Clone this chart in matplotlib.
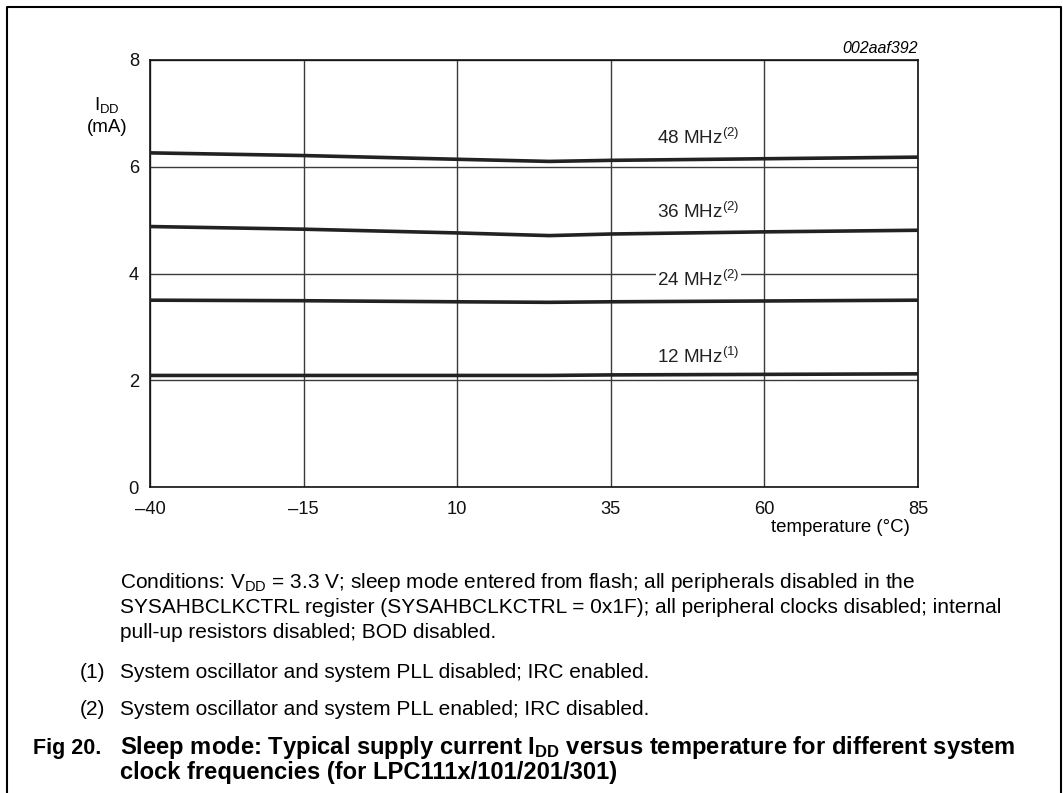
import matplotlib.pyplot as plt
from matplotlib.lines import Line2D

plt.rcParams["font.family"] = ["Liberation Sans", "DejaVu Sans"]
plt.rcParams["mathtext.fontset"] = "custom"
plt.rcParams["mathtext.rm"] = "Liberation Sans"
plt.rcParams["mathtext.it"] = "Liberation Sans:italic"
plt.rcParams["mathtext.bf"] = "Liberation Sans:bold"

# data
temps = [-40, -15, 10, 25, 35, 60, 85]
idd_48 = [6.26, 6.21, 6.14, 6.10, 6.12, 6.15, 6.18]
idd_36 = [4.88, 4.83, 4.76, 4.71, 4.74, 4.78, 4.81]
idd_24 = [3.50, 3.49, 3.47, 3.46, 3.47, 3.485, 3.50]
idd_12 = [2.09, 2.09, 2.09, 2.09, 2.10, 2.11, 2.12]

x_ticks = [-40, -15, 10, 35, 60, 85]
x_tick_labels = ["\u201340", "\u201315", "10", "35", "60", "85"]
y_ticks = [0, 2, 4, 6, 8]

curve_labels = [
    (idd_48, r"48 MHz$^{\rm (2)}$", 6.43),
    (idd_36, r"36 MHz$^{\rm (2)}$", 5.04),
    (idd_24, r"24 MHz$^{\rm (2)}$", 3.77),
    (idd_12, r"12 MHz$^{\rm (1)}$", 2.32),
]

W, H = 1063, 793
fig = plt.figure(figsize=(W / 100, H / 100), dpi=100)


def px(x, y):
    return x / W, 1 - y / H


ax = fig.add_axes([150 / W, 1 - 487 / H, 768 / W, 427 / H])

for vals, label, ly in curve_labels:
    ax.plot(temps, vals, color="#222222", lw=2.6, solid_capstyle="butt", zorder=3)
    box = None
    if "24" in label:
        box = dict(facecolor="white", edgecolor="none", pad=1)
    ax.text(42.5, ly, label, fontsize=13.6, ha="left", va="baseline",
            color="#222222", bbox=box, zorder=4)

ax.set_xlim(-40, 85)
ax.set_ylim(0, 8)
ax.set_xticks(x_ticks)
ax.set_xticklabels(x_tick_labels)
ax.set_yticks(y_ticks)
ax.tick_params(length=0, labelsize=13.2, colors="#111111")
ax.tick_params(axis="x", pad=10)
ax.tick_params(axis="y", pad=8)
ax.grid(True, color="#3a3a3a", lw=1.0)
ax.set_axisbelow(True)
for s in ax.spines.values():
    s.set_color("#111111")
    s.set_linewidth(1.2)

# axis labels
ax.text(-0.056, 0.883, r"I$_{\rm DD}$", transform=ax.transAxes, fontsize=13.5,
        ha="center", va="baseline")
ax.text(-0.056, 0.831, "(mA)", transform=ax.transAxes, fontsize=13.5,
        ha="center", va="baseline")
fig.text(*px(910, 532), "temperature (\u00b0C)", fontsize=13.4, ha="right", va="baseline")
fig.text(*px(918, 53), "002aaf392", fontsize=11.5, style="italic", ha="right", va="baseline")

# frame
fx = [7 / W, 7 / W, 1061 / W, 1061 / W]
fy = [0, 1 - 7 / H, 1 - 7 / H, 0]
fig.add_artist(Line2D(fx, fy, transform=fig.transFigure, color="black", lw=1.5))

# notes
fs = 15
fig.text(*px(120, 588), r"Conditions: V$_{\rm DD}$ = 3.3 V; sleep mode entered from flash; all peripherals disabled in the",
         fontsize=fs, va="baseline")
fig.text(*px(120, 613), "SYSAHBCLKCTRL register (SYSAHBCLKCTRL = 0x1F); all peripheral clocks disabled; internal",
         fontsize=fs, va="baseline")
fig.text(*px(120, 638), "pull-up resistors disabled; BOD disabled.", fontsize=fs, va="baseline")
fig.text(*px(80, 678), "(1)", fontsize=fs, va="baseline")
fig.text(*px(120, 678), "System oscillator and system PLL disabled; IRC enabled.", fontsize=fs, va="baseline")
fig.text(*px(80, 715), "(2)", fontsize=fs, va="baseline")
fig.text(*px(120, 715), "System oscillator and system PLL enabled; IRC disabled.", fontsize=fs, va="baseline")

ts = 17.1
fig.text(*px(33, 754), "Fig 20.", fontsize=15.5, fontweight="bold", va="baseline")
fig.text(*px(120, 754), r"Sleep mode: Typical supply current I$_{\bf DD}$ versus temperature for different system",
         fontsize=ts, fontweight="bold", va="baseline")
fig.text(*px(120, 779), "clock frequencies (for LPC111x/101/201/301)",
         fontsize=ts, fontweight="bold", va="baseline")

fig.savefig("out.png", dpi=100)
